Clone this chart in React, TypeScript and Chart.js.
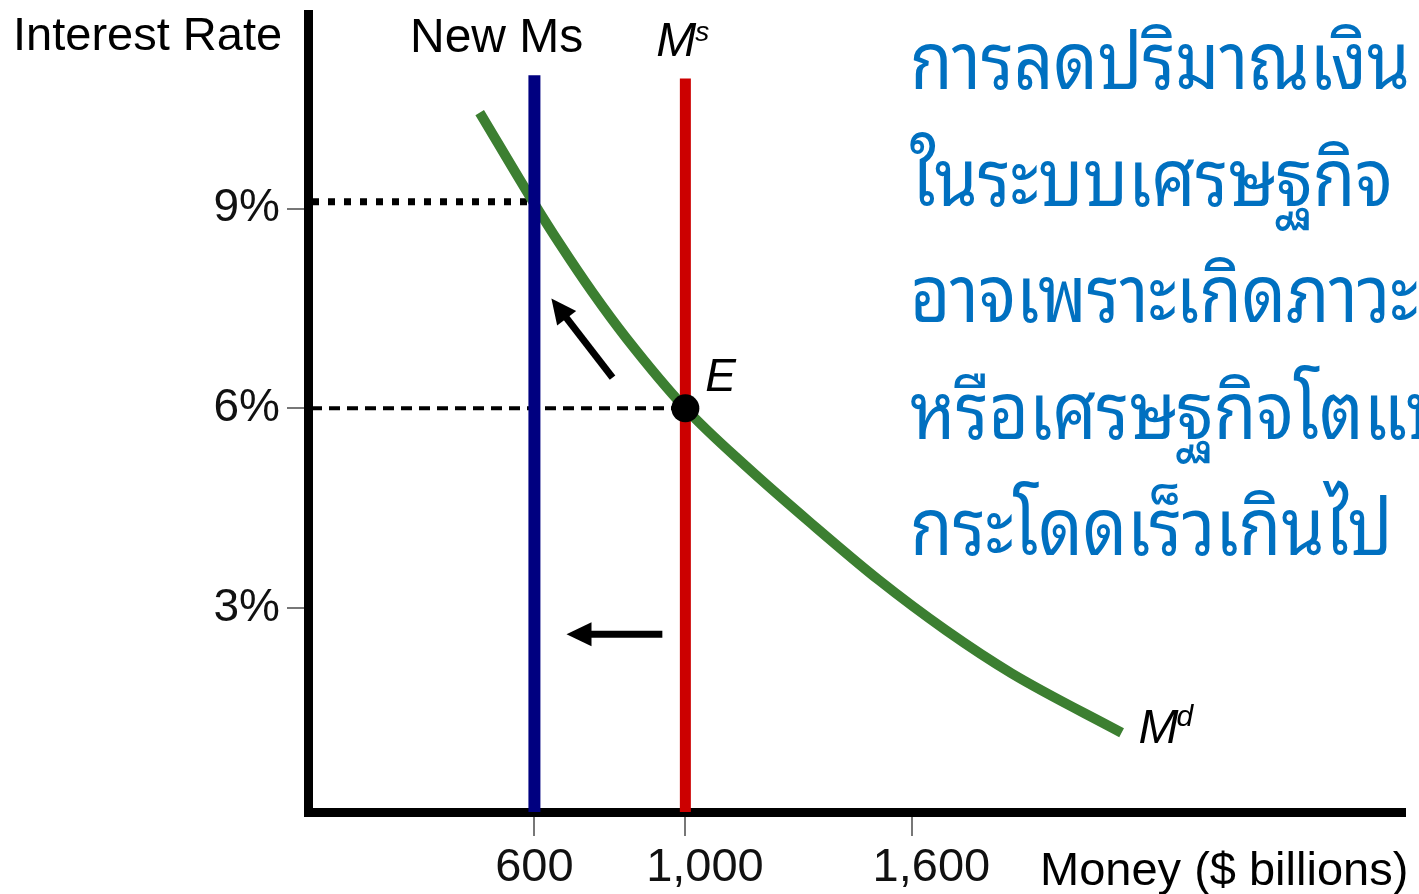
import React, { useEffect, useRef } from "react";
import { Chart, registerables } from "chart.js";

Chart.register(...registerables);

// ---- data ----
const X_TICKS = [600, 1000, 1600];
const Y_TICKS = [3, 6, 9];
const MONEY_DEMAND_X = [455, 600, 667, 754, 844, 1000, 1161, 1336, 1513, 1690, 1865, 2156];
const MONEY_DEMAND_Y = [10.44, 9.07, 8.47, 7.74, 7.05, 6.0, 5.13, 4.26, 3.42, 2.67, 2.02, 1.13];
const MS_OLD = 1000;
const MS_NEW = 600;
const MS_OLD_TOP = 10.95;
const MS_NEW_TOP = 11.0;
const RATE_OLD = 6;
const RATE_NEW = 9.1;
const EQ_POINT = { x: 1000, y: 6 };
// arrows: [tailX, tailY, tipX, tipY]
const ARROWS = [
  [807, 6.46, 645, 7.65],
  [939, 2.61, 685, 2.61],
];
const THAI_LINES = [
  "การลดปริมาณเงิน",
  "ในระบบเศรษฐกิจ",
  "อาจเพราะเกิดภาวะเงินเฟ้อ",
  "หรือเศรษฐกิจโตแบบก้าว",
  "กระโดดเร็วเกินไป",
];

const SANS = '"Liberation Sans", Arial, Helvetica, sans-serif';
const THAI = '"Noto Sans Thai Looped", "Noto Serif Thai", Norasi, Garuda, Loma, "Tlwg Typo", "Noto Sans Thai", sans-serif';

const annotations = {
  id: "annotations",
  afterDatasetsDraw(chart: any) {
    const { ctx, scales } = chart;
    const xs = scales.x;
    const ys = scales.y;
    ctx.save();
    // arrows
    ARROWS.forEach(([tx, ty, hx, hy]) => {
      const x1 = xs.getPixelForValue(tx);
      const y1 = ys.getPixelForValue(ty);
      const x2 = xs.getPixelForValue(hx);
      const y2 = ys.getPixelForValue(hy);
      const ang = Math.atan2(y2 - y1, x2 - x1);
      const headLen = 25;
      const headW = 12;
      const bx = x2 - headLen * Math.cos(ang);
      const by = y2 - headLen * Math.sin(ang);
      ctx.strokeStyle = "#000";
      ctx.lineWidth = 7;
      ctx.lineCap = "butt";
      ctx.beginPath();
      ctx.moveTo(x1, y1);
      ctx.lineTo(bx + 2 * Math.cos(ang), by + 2 * Math.sin(ang));
      ctx.stroke();
      ctx.fillStyle = "#000";
      ctx.beginPath();
      ctx.moveTo(x2, y2);
      ctx.lineTo(bx + headW * Math.sin(ang), by - headW * Math.cos(ang));
      ctx.lineTo(bx - headW * Math.sin(ang), by + headW * Math.cos(ang));
      ctx.closePath();
      ctx.fill();
    });

    ctx.fillStyle = "#000";
    ctx.textBaseline = "alphabetic";
    ctx.textAlign = "left";
    // axis titles
    ctx.font = `47px ${SANS}`;
    ctx.fillText("Interest Rate", 13, 50);
    ctx.fillText("Money ($ billions)", 1040, 885);
    // New Ms
    ctx.font = `48px ${SANS}`;
    ctx.fillText("New Ms", 410, 52);
    // Ms label
    const msx = xs.getPixelForValue(MS_OLD);
    ctx.font = `italic 48px ${SANS}`;
    ctx.fillText("M", msx - 29, 56);
    ctx.font = `italic 28px ${SANS}`;
    ctx.fillText("s", msx + 10, 41);
    // E label
    const ex = xs.getPixelForValue(EQ_POINT.x);
    const ey = ys.getPixelForValue(EQ_POINT.y);
    ctx.font = `italic 46px ${SANS}`;
    ctx.fillText("E", ex + 20, ey - 17);
    // Md label
    const lastI = MONEY_DEMAND_X.length - 1;
    const mdx = xs.getPixelForValue(MONEY_DEMAND_X[lastI]);
    const mdy = ys.getPixelForValue(MONEY_DEMAND_Y[lastI]);
    ctx.font = `italic 48px ${SANS}`;
    ctx.fillText("M", mdx + 17, mdy + 10);
    ctx.font = `italic 30px ${SANS}`;
    ctx.fillText("d", mdx + 55, mdy - 7);
    // Thai text (narrowed to the reference's condensed face)
    ctx.fillStyle = "#0070C0";
    ctx.font = `80px ${THAI}`;
    const w0 = ctx.measureText(THAI_LINES[0]).width || 500;
    const sx = 500 / w0;
    ctx.translate(910, 0);
    ctx.scale(sx, 1);
    THAI_LINES.forEach((t, i) => {
      ctx.fillText(t, 0, 89 + i * 116.5);
    });
    ctx.restore();
  },
};

export default function App() {
  const ref = useRef<HTMLCanvasElement | null>(null);
  useEffect(() => {
    document.body.style.margin = "0";
    const canvas = ref.current;
    if (!canvas) return;
    const zeroPad = (s: any) => {
      s.paddingTop = 0;
      s.paddingBottom = 0;
      s.paddingLeft = 0;
      s.paddingRight = 0;
    };
    const chart = new Chart(canvas, {
      type: "line",
      data: {
        datasets: [
          {
            label: "E",
            data: [EQ_POINT],
            showLine: false,
            pointRadius: 14,
            pointBackgroundColor: "#000",
            pointBorderColor: "#000",
            pointBorderWidth: 0,
            order: 0,
          },
          {
            label: "New Ms",
            data: [{ x: MS_NEW, y: -0.06 }, { x: MS_NEW, y: MS_NEW_TOP }],
            borderColor: "#000080",
            borderWidth: 12,
            borderCapStyle: "butt",
            pointRadius: 0,
            order: 1,
          },
          {
            label: "Md",
            data: MONEY_DEMAND_X.map((x, i) => ({ x, y: MONEY_DEMAND_Y[i] })),
            borderColor: "#3C7F31",
            borderWidth: 10,
            borderCapStyle: "butt",
            cubicInterpolationMode: "monotone",
            pointRadius: 0,
            order: 2,
          },
          {
            label: "Ms",
            data: [{ x: MS_OLD, y: -0.06 }, { x: MS_OLD, y: MS_OLD_TOP }],
            borderColor: "#CC0000",
            borderWidth: 11,
            borderCapStyle: "butt",
            pointRadius: 0,
            order: 3,
          },
          {
            label: "9%",
            data: [{ x: 0, y: RATE_NEW }, { x: MS_NEW, y: RATE_NEW }],
            borderColor: "#000",
            borderWidth: 7,
            borderDash: [7, 9],
            borderDashOffset: -4,
            borderCapStyle: "butt",
            pointRadius: 0,
            order: 4,
          },
          {
            label: "6%",
            data: [{ x: 0, y: RATE_OLD }, { x: MS_OLD, y: RATE_OLD }],
            borderColor: "#000",
            borderWidth: 4,
            borderDash: [11, 7],
            borderDashOffset: -3,
            borderCapStyle: "butt",
            pointRadius: 0,
            order: 5,
          },
        ],
      },
      options: {
        responsive: false,
        animation: false,
        layout: { padding: { left: 0, top: 13, right: 12, bottom: 0 } },
        plugins: {
          legend: { display: false },
          tooltip: { enabled: false },
          title: { display: false },
        },
        events: [],
        scales: {
          x: {
            type: "linear",
            min: 0,
            max: 2907,
            afterFit: (s: any) => {
              s.height = 82;
              zeroPad(s);
            },
            afterBuildTicks: (s: any) => {
              s.ticks = X_TICKS.map((v) => ({ value: v }));
            },
            ticks: {
              autoSkip: false,
              maxRotation: 0,
              padding: 4,
              color: "#111",
              font: { family: SANS, size: 47 },
              callback: (v: any) => {
                const s = Number(v).toLocaleString("en-US");
                return s.length > 3 ? "\u00a0\u00a0\u00a0" + s : s;
              },
            },
            grid: {
              drawOnChartArea: false,
              drawTicks: true,
              tickLength: 24,
              color: "#777",
              lineWidth: 2,
            },
            border: { display: true, color: "#000", width: 9 },
          },
          y: {
            type: "linear",
            min: -0.06,
            max: 11.92,
            afterFit: (s: any) => {
              s.width = 308;
              zeroPad(s);
            },
            afterBuildTicks: (s: any) => {
              s.ticks = Y_TICKS.map((v) => ({ value: v }));
            },
            ticks: {
              padding: 7,
              color: "#111",
              font: { family: SANS, size: 46 },
              callback: (v: any) => `${v}%`,
            },
            grid: {
              drawOnChartArea: false,
              drawTicks: true,
              tickLength: 21,
              color: "#777",
              lineWidth: 2,
            },
            border: { display: true, color: "#000", width: 9 },
          },
        },
      },
      plugins: [annotations],
    });
    return () => chart.destroy();
  }, []);
  return (
    <div style={{ position: "absolute", left: 0, top: 0, width: 1419, height: 894, background: "#fff" }}>
      <canvas ref={ref} width={1419} height={894} style={{ display: "block" }} />
    </div>
  );
}
